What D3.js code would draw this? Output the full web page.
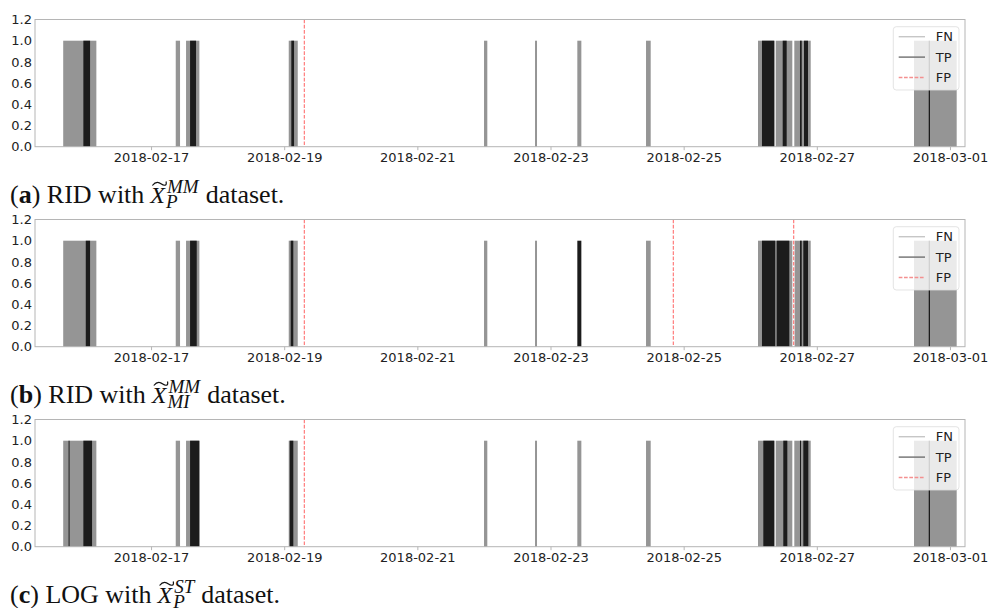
<!DOCTYPE html>
<html>
<head>
<meta charset="utf-8">
<script src="https://cdn.jsdelivr.net/npm/d3@7"></script>
<style>
  body { margin: 0; background: #fff; }
  svg { display: block; }
</style>
</head>
<body>
<svg id="chart" width="989" height="608"></svg>
<script>
// ---- axis ticks -------------------------------------------------------
const xTickDates = ["2018-02-17", "2018-02-19", "2018-02-21", "2018-02-23",
                    "2018-02-25", "2018-02-27", "2018-03-01"];
const yTicks = [0, 0.2, 0.4, 0.6, 0.8, 1.0, 1.2];
const xDomain = ["2018-02-15T06:10", "2018-03-01T05:25"];
const legendLabels = ["FN", "TP", "FP"];

// ---- captions -----------------------------------------------------------
const captionTags = ["a", "b", "c"];
const captionMethods = ["RID", "RID", "LOG"];
const captionSups = ["MM", "MM", "ST"];
const captionSubs = ["P", "MI", "P"];

// ---- (a) RID, MM-scaled P data: anomaly periods [start, end] -------------
const fnA = [
  ["2018-02-15T16:20", "2018-02-16T04:17"],
  ["2018-02-17T08:54", "2018-02-17T10:27"],
  ["2018-02-17T12:37", "2018-02-17T17:25"],
  ["2018-02-19T01:38", "2018-02-19T04:53"],
  ["2018-02-22T00:02", "2018-02-22T01:13"],
  ["2018-02-22T18:25", "2018-02-22T19:08"],
  ["2018-02-23T09:40", "2018-02-23T11:07"],
  ["2018-02-24T10:26", "2018-02-24T12:07"],
  ["2018-02-26T02:48", "2018-02-26T08:41"],
  ["2018-02-26T09:11", "2018-02-26T15:10"],
  ["2018-02-26T15:53", "2018-02-26T21:48"],
  ["2018-02-28T11:02", "2018-03-01T02:25"]
];
const tpA = [
  ["2018-02-15T23:36", "2018-02-16T02:01"],
  ["2018-02-17T14:04", "2018-02-17T16:13"],
  ["2018-02-19T02:34", "2018-02-19T03:33"],
  ["2018-02-26T04:14", "2018-02-26T08:41"],
  ["2018-02-26T11:42", "2018-02-26T13:08"],
  ["2018-02-26T17:56", "2018-02-26T18:33"],
  ["2018-02-26T19:23", "2018-02-26T20:49"],
  ["2018-02-28T16:20", "2018-02-28T16:48"]
];
const fpA = ["2018-02-19T07:15"];

// ---- (b) RID, MM-scaled MI data -----------------------------------------
const fnB = [
  ["2018-02-15T16:20", "2018-02-16T04:17"],
  ["2018-02-17T08:54", "2018-02-17T10:27"],
  ["2018-02-17T12:37", "2018-02-17T17:25"],
  ["2018-02-19T01:38", "2018-02-19T04:53"],
  ["2018-02-22T00:02", "2018-02-22T01:13"],
  ["2018-02-22T18:25", "2018-02-22T19:08"],
  ["2018-02-24T10:26", "2018-02-24T12:07"],
  ["2018-02-26T02:48", "2018-02-26T15:10"],
  ["2018-02-26T16:00", "2018-02-26T21:48"],
  ["2018-02-28T11:02", "2018-03-01T02:25"]
];
const tpB = [
  ["2018-02-16T00:28", "2018-02-16T02:01"],
  ["2018-02-17T14:04", "2018-02-17T16:28"],
  ["2018-02-19T02:21", "2018-02-19T03:17"],
  ["2018-02-23T09:40", "2018-02-23T11:07"],
  ["2018-02-26T04:14", "2018-02-26T09:00"],
  ["2018-02-26T09:32", "2018-02-26T14:05"],
  ["2018-02-26T17:56", "2018-02-26T18:33"],
  ["2018-02-26T19:08", "2018-02-26T20:49"],
  ["2018-02-28T16:20", "2018-02-28T16:48"]
];
const fpB = ["2018-02-19T07:15", "2018-02-24T20:16", "2018-02-26T15:40"];

// ---- (c) LOG, ST-scaled P data ------------------------------------------
const fnC = [
  ["2018-02-15T16:20", "2018-02-16T04:17"],
  ["2018-02-17T08:54", "2018-02-17T10:27"],
  ["2018-02-17T12:37", "2018-02-17T17:25"],
  ["2018-02-19T01:38", "2018-02-19T04:53"],
  ["2018-02-22T00:02", "2018-02-22T01:13"],
  ["2018-02-22T18:25", "2018-02-22T19:08"],
  ["2018-02-23T09:40", "2018-02-23T11:07"],
  ["2018-02-24T10:26", "2018-02-24T12:07"],
  ["2018-02-26T02:48", "2018-02-26T08:41"],
  ["2018-02-26T09:11", "2018-02-26T15:10"],
  ["2018-02-26T15:53", "2018-02-26T21:48"],
  ["2018-02-28T11:02", "2018-03-01T02:25"]
];
const tpC = [
  ["2018-02-15T18:16", "2018-02-15T18:38"],
  ["2018-02-15T23:36", "2018-02-16T02:44"],
  ["2018-02-17T14:04", "2018-02-17T17:25"],
  ["2018-02-19T02:00", "2018-02-19T03:17"],
  ["2018-02-26T04:43", "2018-02-26T08:41"],
  ["2018-02-26T11:55", "2018-02-26T13:22"],
  ["2018-02-26T17:56", "2018-02-26T18:18"],
  ["2018-02-26T19:08", "2018-02-26T20:56"],
  ["2018-02-28T16:20", "2018-02-28T16:48"]
];
const fpC = ["2018-02-19T07:15"];

const panels = [
  { fn: fnA, tp: tpA, fp: fpA },
  { fn: fnB, tp: tpB, fp: fpB },
  { fn: fnC, tp: tpC, fp: fpC }
];

// ---- drawing ------------------------------------------------------------
const parse = d3.timeParse("%Y-%m-%dT%H:%M");
const parseDay = d3.timeParse("%Y-%m-%d");
const fmt = d3.timeFormat("%Y-%m-%d");

const svg = d3.select("#chart");
const sans = "'DejaVu Sans', sans-serif";
const serif = "'Liberation Serif', 'DejaVu Serif', serif";

const left = 35, right = 965;
const panelTop = 19.5, panelBottom = 146.7, panelStep = 200;

const x = d3.scaleTime()
  .domain(xDomain.map(parse))
  .range([left, right]);

const colors = { fn: "#959595", tp: "#1c1c1c", fp: "#ff7070", spine: "#b5b5b5" };
const legendColors = ["#c6c6c6", "#6f6f6f", "#f49090"];

panels.forEach((p, i) => {
  const top = panelTop + i * panelStep;
  const bottom = panelBottom + i * panelStep;
  const y = d3.scaleLinear().domain([0, 1.2]).range([bottom, top]);
  const g = svg.append("g");

  // false negatives, then true positives on top
  const spanRect = (sel, data, color) => sel.selectAll(null)
    .data(data).join("rect")
    .attr("x", d => x(parse(d[0])))
    .attr("width", d => Math.max(0.8, x(parse(d[1])) - x(parse(d[0]))))
    .attr("y", y(1))
    .attr("height", y(0) - y(1))
    .attr("fill", color);
  spanRect(g.append("g"), p.fn, colors.fn);
  spanRect(g.append("g"), p.tp, colors.tp);

  // false positives as dashed full-height lines
  g.append("g").selectAll("line").data(p.fp).join("line")
    .attr("x1", d => x(parse(d))).attr("x2", d => x(parse(d)))
    .attr("y1", top).attr("y2", bottom)
    .attr("stroke", colors.fp).attr("stroke-width", 1.1)
    .attr("stroke-dasharray", "3.7,1.6");

  // frame
  g.append("rect")
    .attr("x", left).attr("y", top)
    .attr("width", right - left).attr("height", bottom - top)
    .attr("fill", "none").attr("stroke", colors.spine).attr("stroke-width", 1);

  // x axis
  const xAxis = d3.axisBottom(x)
    .tickValues(xTickDates.map(parseDay))
    .tickFormat(fmt)
    .tickSize(3.5)
    .tickPadding(3);
  const gx = g.append("g").attr("transform", `translate(0,${bottom})`).call(xAxis);
  gx.select(".domain").remove();
  gx.selectAll(".tick line").attr("stroke", colors.spine);
  gx.selectAll(".tick text").attr("font-family", sans).attr("font-size", 13).attr("fill", "#222");

  // y axis
  const yAxis = d3.axisLeft(y)
    .tickValues(yTicks)
    .tickFormat(d3.format(".1f"))
    .tickSize(0)
    .tickPadding(3);
  const gy = g.append("g").attr("transform", `translate(${left},0)`).call(yAxis);
  gy.select(".domain").remove();
  gy.selectAll(".tick text").attr("font-family", sans).attr("font-size", 13).attr("fill", "#222");

  // legend
  const lg = g.append("g").attr("transform", `translate(${right - 71.7},${top + 7.2})`);
  lg.append("rect").attr("width", 65.7).attr("height", 63.3).attr("rx", 3)
    .attr("fill", "#fff").attr("fill-opacity", 0.8)
    .attr("stroke", "#ddd").attr("stroke-opacity", 0.8);
  legendLabels.forEach((lab, k) => {
    const ly = 10 + k * 20.4;
    lg.append("line").attr("x1", 5.4).attr("x2", 31.7).attr("y1", ly).attr("y2", ly)
      .attr("stroke", legendColors[k]).attr("stroke-width", 1.4)
      .attr("stroke-dasharray", k === 2 ? "3.7,1.6" : null);
    lg.append("text").attr("x", 42.5).attr("y", ly).attr("dy", "0.36em")
      .attr("font-family", sans).attr("font-size", 13).attr("fill", "#222").text(lab);
  });

  // caption: "(x) METHOD with X~_sub^sup dataset."
  const base = 203 + i * panelStep;
  const cg = svg.append("g").attr("font-family", serif).attr("fill", "#111");
  const t1 = cg.append("text").attr("x", 10).attr("y", base).attr("font-size", 26);
  t1.append("tspan").text("(");
  t1.append("tspan").attr("font-weight", "bold").text(captionTags[i]);
  t1.append("tspan").text(") " + captionMethods[i] + " with");
  let cx = 10 + t1.node().getComputedTextLength() + 6;
  const tx = cg.append("text").attr("x", cx).attr("y", base)
    .attr("font-size", 24).attr("font-style", "italic").text("X");
  const xw = tx.node().getComputedTextLength();
  // wide tilde over the X
  const ty = base - 20.5;
  cg.append("path")
    .attr("d", `M${cx + 2},${ty + 3} C${cx + 6},${ty - 2} ${cx + 9},${ty} ${cx + 11},${ty + 1.5} S${cx + 17},${ty + 4} ${cx + xw + 1},${ty - 1}`)
    .attr("fill", "none").attr("stroke", "#111").attr("stroke-width", 1.2);
  const sx = cx + xw + 2;
  const sup = cg.append("text").attr("x", sx).attr("y", base - 10)
    .attr("font-size", 19).attr("font-style", "italic").text(captionSups[i]);
  const sub = cg.append("text").attr("x", sx - 1).attr("y", base + 4.5)
    .attr("font-size", 19).attr("font-style", "italic").text(captionSubs[i]);
  cx = sx + Math.max(sup.node().getComputedTextLength(), sub.node().getComputedTextLength()) + 7;
  cg.append("text").attr("x", cx).attr("y", base).attr("font-size", 26).text("dataset.");
});
</script>
</body>
</html>
